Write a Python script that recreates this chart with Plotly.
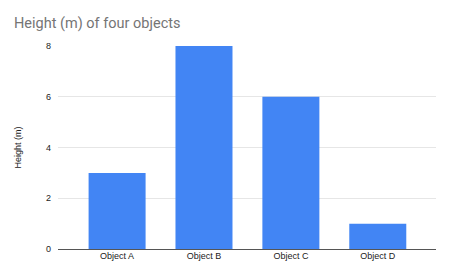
import plotly.graph_objects as go

categories = ["Object A", "Object B", "Object C", "Object D"]
heights = [3, 8, 6, 1]
y_ticks = [0, 2, 4, 6, 8]

fig = go.Figure(go.Bar(x=categories, y=heights, marker_color="#4285F4", width=0.656,
                       marker_line_width=0))

fig.update_layout(
    width=450, height=278,
    margin=dict(l=58, r=14, t=46, b=29),
    paper_bgcolor="white", plot_bgcolor="white",
    title=dict(text="Height (m) of four objects", x=14/450, xanchor="left",
               y=1-23/278, yanchor="middle",
               font=dict(family="Roboto", size=14.5, color="#757575")),
    font=dict(family="Liberation Sans, Arial", size=9, color="#222222"),
    showlegend=False,
)
fig.update_xaxes(range=[-0.68, 3.67], showgrid=False, ticks="", showline=False,
                 tickfont=dict(size=9, color="#222222"))
fig.update_yaxes(range=[0, 8], tickvals=y_ticks, showgrid=True, gridcolor="#e6e6e6",
                 gridwidth=1, zeroline=True, zerolinecolor="#555555", zerolinewidth=1,
                 ticks="", showline=False, ticklabelstandoff=6,
                 title=dict(text="Height (m)", font=dict(size=9, color="#222222"), standoff=22),
                 tickfont=dict(size=9, color="#222222"))

fig.write_html("out.html")
